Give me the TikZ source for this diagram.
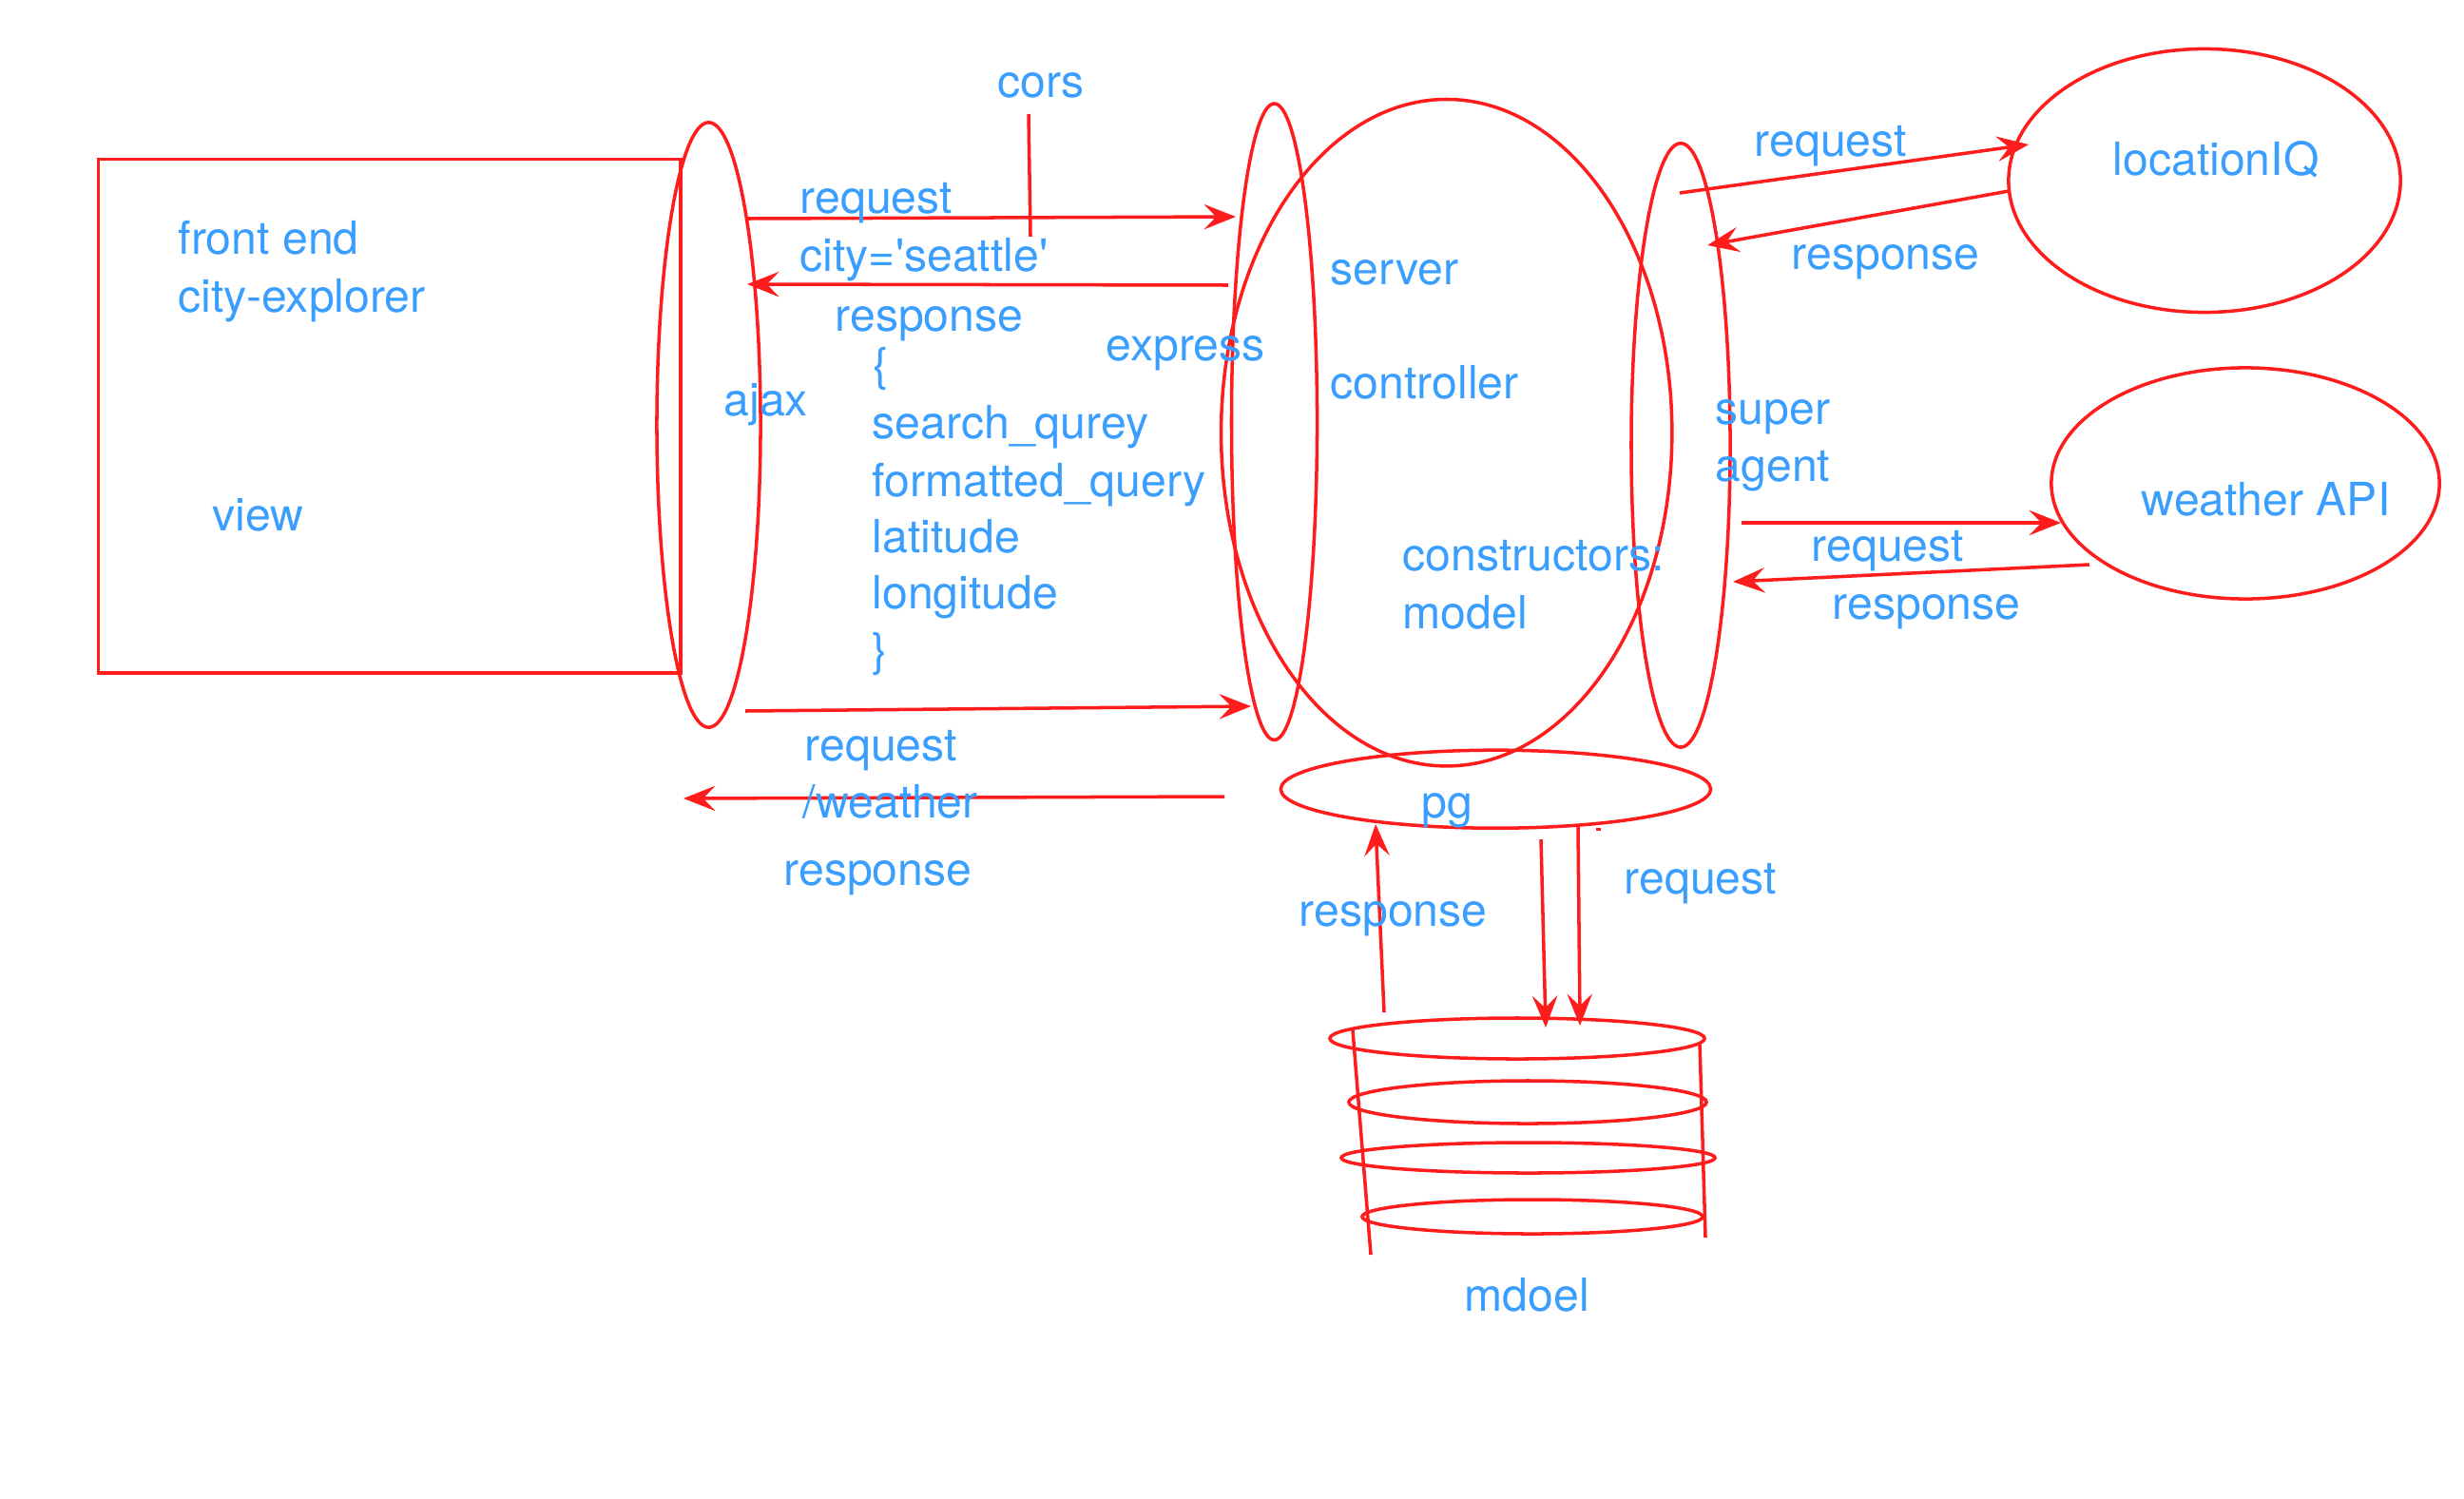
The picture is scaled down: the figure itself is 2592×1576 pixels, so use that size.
\documentclass[tikz,border=0pt]{standalone}
\usepackage{fontspec}
\setmainfont{TeX Gyre Heros}
\usetikzlibrary{shapes.geometric,arrows.meta,calc}
\definecolor{penred}{RGB}{255,28,28}
\definecolor{inkblue}{RGB}{58,158,255}
\tikzset{
  outline/.style={draw=penred,line width=1pt},
  oval/.style={outline,ellipse,inner sep=0pt,minimum width=#1},
  box/.style={outline,rectangle,inner sep=0pt},
  lbl/.style={inner sep=0pt,anchor=base west,text=inkblue,font=\fontsize{13.7}{16}\selectfont},
  flow/.style={draw=penred,line width=1pt,-{Stealth[length=9.5pt,width=7.5pt,inset=3.6pt]}},
  plain/.style={draw=penred,line width=1pt},
}
\begin{document}
\begin{tikzpicture}[x=0.01cm,y=-0.01cm]
\useasboundingbox (0,0) rectangle (2592,1576);

% shapes
\node[box,minimum width=6.12cm,minimum height=5.40cm] (view) at (409.9,437.7) {};
\node[oval=1.09cm,minimum height=6.36cm] (ajax) at (745.5,447) {};
\node[oval=0.90cm,minimum height=6.69cm] (express) at (1340.5,443.7) {};
\node[oval=4.74cm,minimum height=7.01cm] (server) at (1521.7,455.2) {};
\node[oval=1.04cm,minimum height=6.35cm] (superagent) at (1768,468.4) {};
\node[oval=4.12cm,minimum height=2.77cm] (lociq) at (2319,190) {};
\node[oval=4.08cm,minimum height=2.43cm] (weather) at (2362,508.5) {};
\node[oval=4.52cm,minimum height=0.82cm] (pg) at (1573.4,830.2) {};

% database cylinder
\node[oval=3.94cm,minimum height=0.43cm] (db1) at (1596,1092.5) {};
\node[oval=3.76cm,minimum height=0.45cm] (db2) at (1607,1159.5) {};
\node[oval=3.93cm,minimum height=0.32cm] (db3) at (1607.5,1218) {};
\node[oval=3.58cm,minimum height=0.36cm] (db4) at (1612,1280) {};
\coordinate (dbLtop) at (1423,1084);
\coordinate (dbLbot) at (1442,1320);
\coordinate (dbRtop) at (1788,1097);
\coordinate (dbRbot) at (1794,1302);
\draw[plain] (dbLtop) -- (dbLbot);
\draw[plain] (dbRtop) -- (dbRbot);

% connector end points
\coordinate (a1) at (787,230);   \coordinate (e1) at (1300,228);
\coordinate (e2) at (1292,300);  \coordinate (a2) at (786,299);
\coordinate (a3) at (784,748);   \coordinate (e3) at (1316,743);
\coordinate (e4) at (1288,838);  \coordinate (a4) at (719,840);
\coordinate (corsTop) at (1082,120); \coordinate (corsBot) at (1084,249);
\coordinate (s1) at (1767,203);  \coordinate (l1) at (2134,152);
\coordinate (l2) at (2113,201);  \coordinate (s2) at (1796,258);
\coordinate (s3) at (1832,550);  \coordinate (w1) at (2168,550);
\coordinate (w2) at (2198,594);  \coordinate (s4) at (1823,612);
\coordinate (m1) at (1456,1065); \coordinate (p1) at (1447,867);
\coordinate (p2) at (1621,883);  \coordinate (m2) at (1626,1081);
\coordinate (p3) at (1660,870);  \coordinate (m3) at (1662,1079);
\coordinate (speck) at (1681,872);

% connectors
\draw[flow] (a1) -- (e1);
\draw[flow] (e2) -- (a2);
\draw[flow] (a3) -- (e3);
\draw[flow] (e4) -- (a4);
\draw[plain] (corsTop) -- (corsBot);
\draw[flow] (s1) -- (l1);
\draw[flow] (l2) -- (s2);
\draw[flow] (s3) -- (w1);
\draw[flow] (w2) -- (s4);
\draw[flow] (m1) -- (p1);
\draw[flow] (p2) -- (m2);
\draw[flow] (p3) -- (m3);
\fill[penred] ($(speck)+(-2.5,-1.5)$) rectangle ($(speck)+(2.5,1.5)$);

% labels
\node[lbl] (tCors) at (1049,103) {cors};
\node[lbl] (tFront) at (187,267) {front end};
\node[lbl] (tCity) at (187,328) {city-explorer};
\node[lbl] (tView) at (223,558) {view};
\node[lbl] (tReq1) at (841,225) {request};
\node[lbl] (tSeattle) at (841,285) {city=\textquotesingle seattle\textquotesingle};
\node[lbl] (tResp1) at (878,348) {response};
\node[lbl] (tOpen) at (918,400) {\{};
\node[lbl] (tSearch) at (917,461) {search\_qurey};
\node[lbl] (tFormatted) at (917,522) {formatted\_query};
\node[lbl] (tLat) at (917,581) {latitude};
\node[lbl] (tLon) at (917,640) {longitude};
\node[lbl] (tClose) at (917,700) {\}};
\node[lbl] (tAjax) at (761,437) {ajax};
\node[lbl] (tExpress) at (1163,379) {express};
\node[lbl] (tServer) at (1399,299) {server};
\node[lbl] (tController) at (1399,419) {controller};
\node[lbl] (tConstructors) at (1475,600) {constructors:};
\node[lbl] (tModel) at (1475,661) {model};
\node[lbl] (tPg) at (1495,860) {pg};
\node[lbl] (tReq2) at (846,800) {request};
\node[lbl] (tWeatherRoute) at (844,860) {/weather};
\node[lbl] (tResp2) at (824,931) {response};
\node[lbl] (tResp3) at (1366,974) {response};
\node[lbl] (tReq3) at (1708,940) {request};
\node[lbl] (tMdoel) at (1540,1379) {mdoel};
\node[lbl] (tReq4) at (1845,165) {request};
\node[lbl] (tResp4) at (1884,283) {response};
\node[lbl] (tLocIQ) at (2222,185) {locationIQ};
\node[lbl] (tSuper) at (1804,446) {super};
\node[lbl] (tAgent) at (1804,506) {agent};
\node[lbl] (tWeatherApi) at (2252,542) {weather API};
\node[lbl] (tReq5) at (1905,590) {request};
\node[lbl] (tResp5) at (1927,651) {response};
\end{tikzpicture}
\end{document}
